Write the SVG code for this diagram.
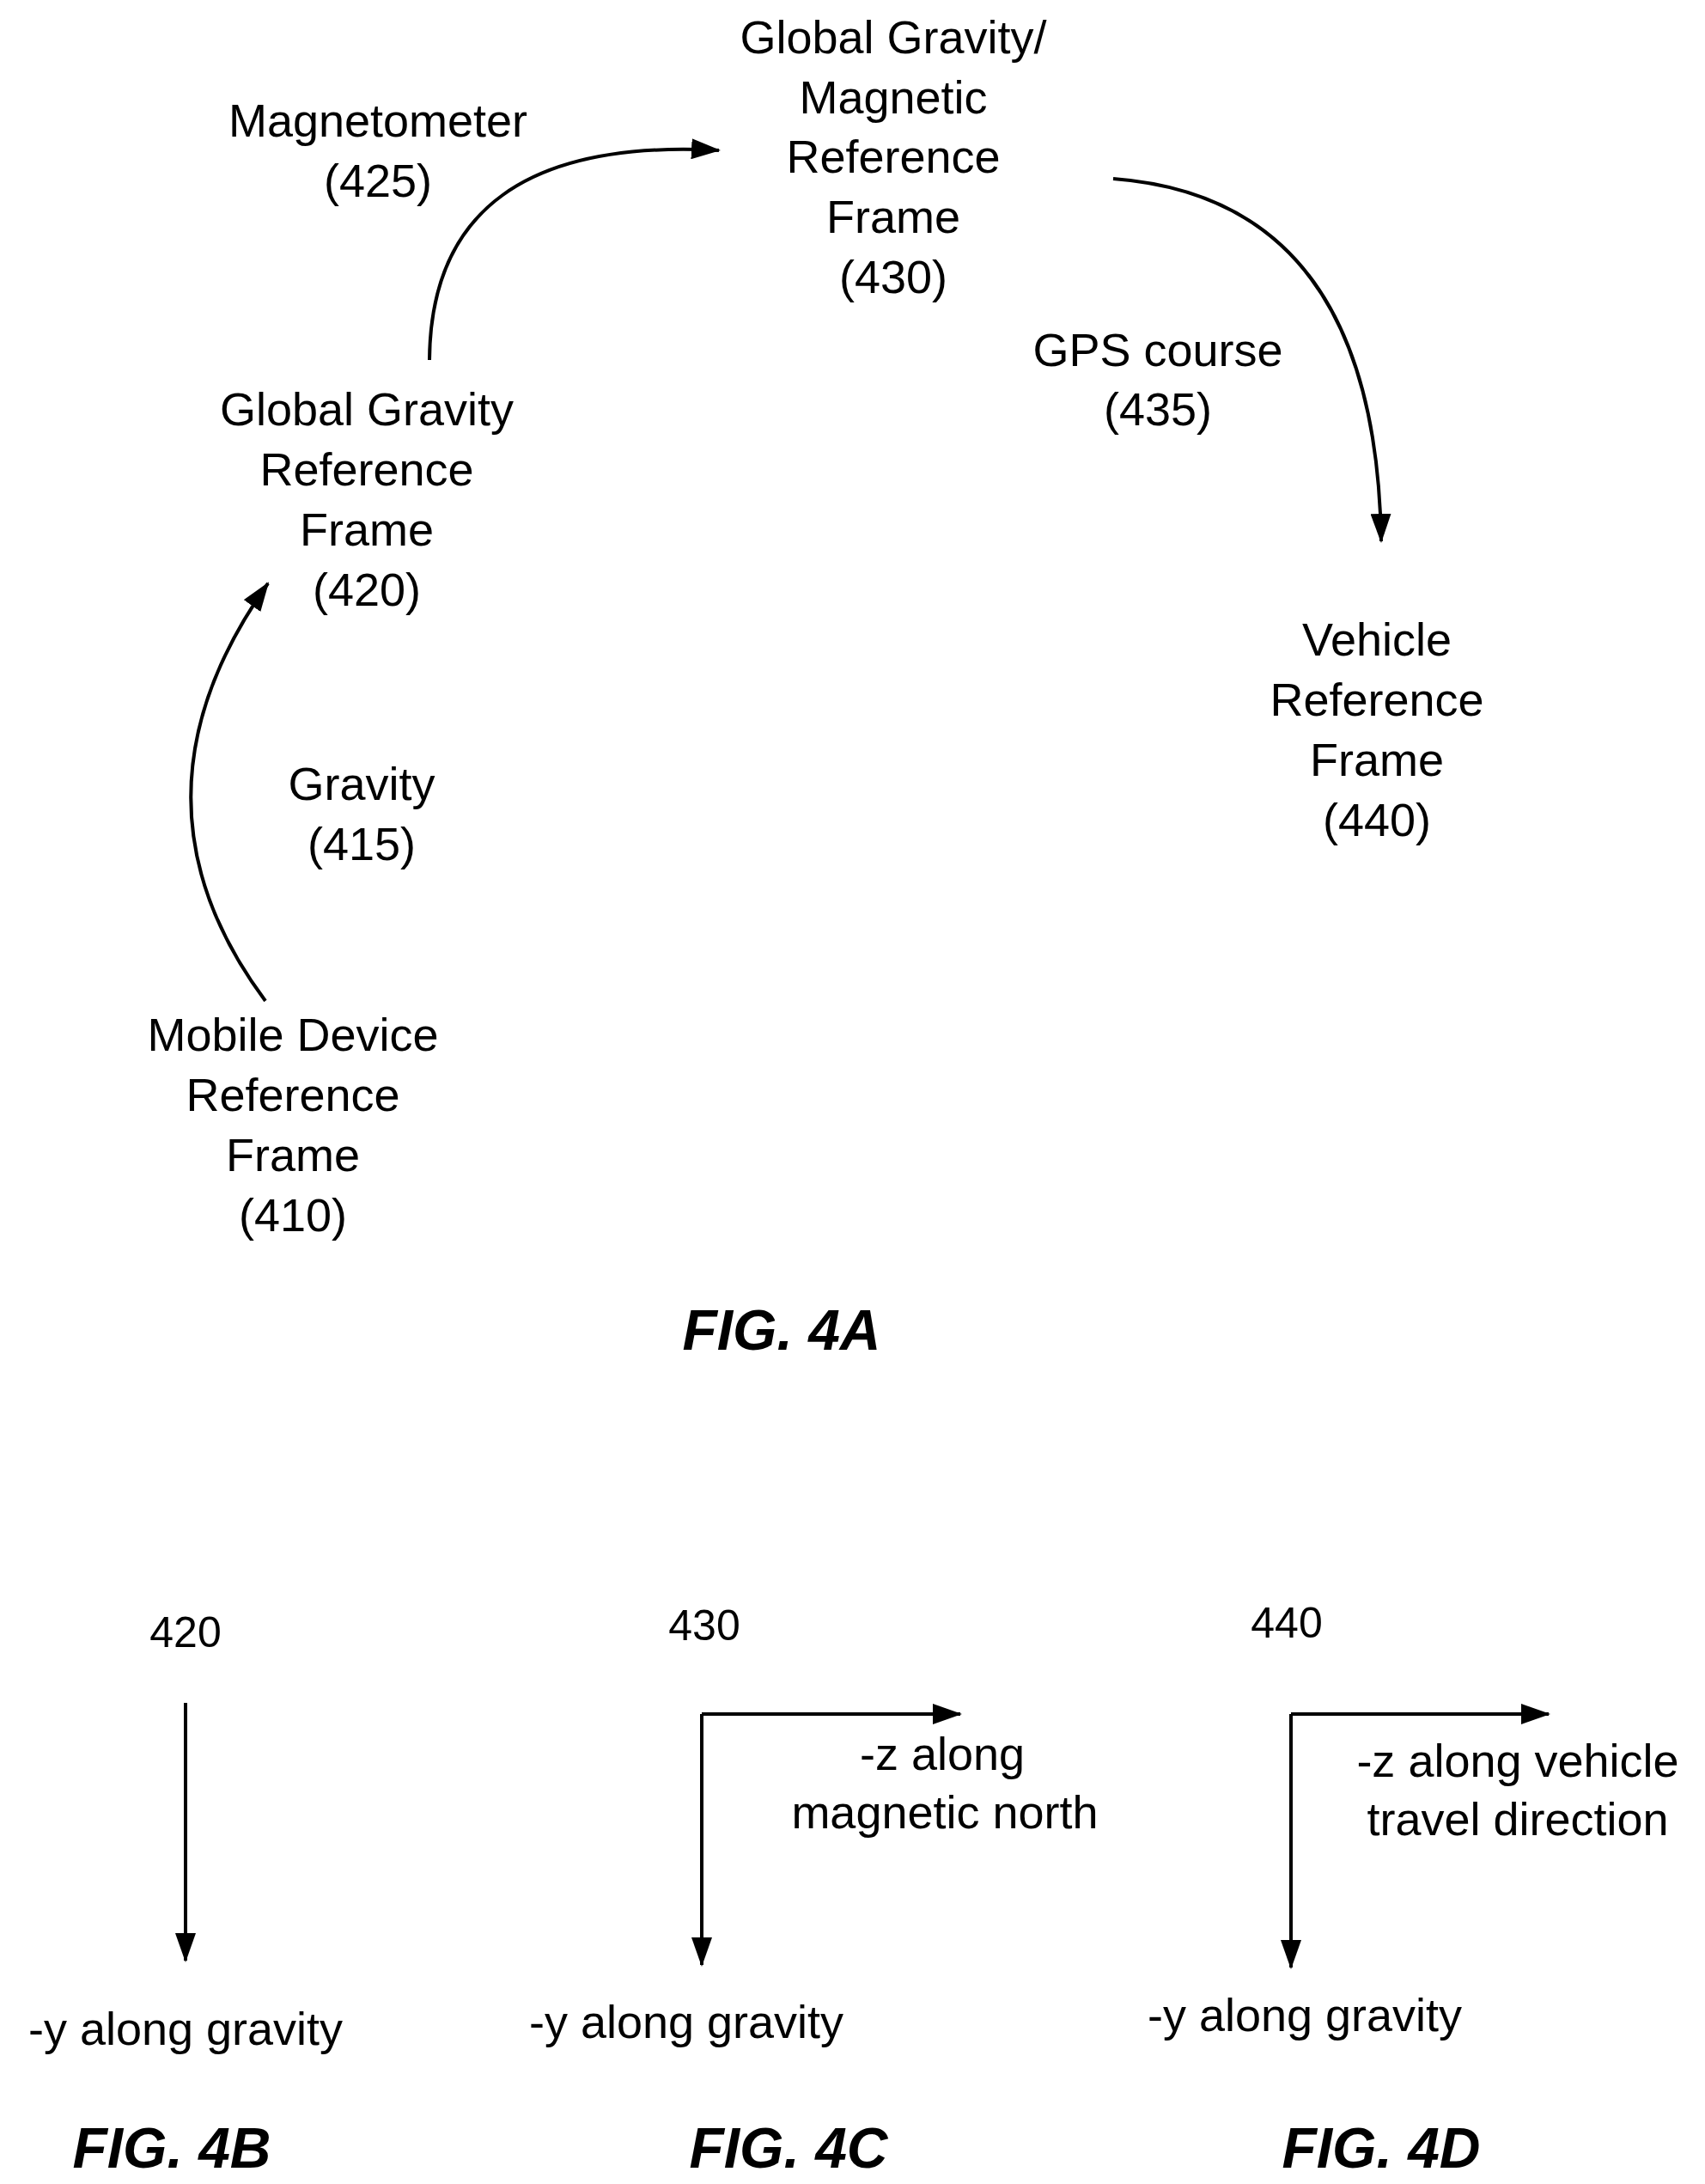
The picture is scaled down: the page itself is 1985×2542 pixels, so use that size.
<svg xmlns="http://www.w3.org/2000/svg" width="1985" height="2542" viewBox="0 0 1985 2542">
<style>
text{font-family:"Liberation Sans",Arial,sans-serif;fill:#000;text-anchor:middle}
.t{font-size:54px}
.n{font-size:50px}
.f{font-size:66px;font-weight:bold;font-style:italic}
.c{fill:none;stroke:#000;stroke-width:4}
</style>
<defs>
<marker id="ah" markerUnits="userSpaceOnUse" markerWidth="34" markerHeight="24" refX="32" refY="12" orient="auto">
<path d="M0,0 L34,12 L0,24 Z" fill="#000"/>
</marker>
</defs>
<rect width="1985" height="2542" fill="#fff"/>
<g id="n430"><text class="t" x="1040" y="62">Global Gravity/</text><text class="t" x="1040" y="132">Magnetic</text><text class="t" x="1040" y="201">Reference</text><text class="t" x="1040" y="271">Frame</text><text class="t" x="1040" y="341">(430)</text></g>
<g id="l425"><text class="t" x="440" y="159">Magnetometer</text><text class="t" x="440" y="229">(425)</text></g>
<g id="n420"><text class="t" x="427" y="495">Global Gravity</text><text class="t" x="427" y="565">Reference</text><text class="t" x="427" y="635">Frame</text><text class="t" x="427" y="705">(420)</text></g>
<g id="l415"><text class="t" x="421" y="931">Gravity</text><text class="t" x="421" y="1001">(415)</text></g>
<g id="n410"><text class="t" x="341" y="1223">Mobile Device</text><text class="t" x="341" y="1293">Reference</text><text class="t" x="341" y="1363">Frame</text><text class="t" x="341" y="1433">(410)</text></g>
<g id="l435"><text class="t" x="1348" y="426">GPS course</text><text class="t" x="1348" y="495">(435)</text></g>
<g id="n440"><text class="t" x="1603" y="763">Vehicle</text><text class="t" x="1603" y="833">Reference</text><text class="t" x="1603" y="903">Frame</text><text class="t" x="1603" y="973">(440)</text></g>
<text class="f" x="910" y="1571">FIG. 4A</text>
<g id="connectors">
<path class="c" d="M309,1165 Q134,930 312,679" marker-end="url(#ah)"/>
<path class="c" d="M500,419 Q502,157 837,175" marker-end="url(#ah)"/>
<path class="c" d="M1296,208 Q1602,231 1608,630" marker-end="url(#ah)"/>
<path class="c" d="M216,1982 L216,2282" marker-end="url(#ah)"/>
<path class="c" d="M817,1995 L1118,1995" marker-end="url(#ah)"/>
<path class="c" d="M817,1995 L817,2287" marker-end="url(#ah)"/>
<path class="c" d="M1503,1995 L1803,1995" marker-end="url(#ah)"/>
<path class="c" d="M1503,1995 L1503,2290" marker-end="url(#ah)"/>
</g>
<g id="fig4b"><text class="n" x="216" y="1917">420</text><text class="t" x="216" y="2380">-y along gravity</text><text class="f" x="200" y="2523">FIG. 4B</text></g>
<g id="fig4c"><text class="n" x="820" y="1909">430</text><text class="t" x="1097" y="2060">-z along</text><text class="t" x="1100" y="2128">magnetic north</text><text class="t" x="799" y="2372">-y along gravity</text><text class="f" x="918" y="2523">FIG. 4C</text></g>
<g id="fig4d"><text class="n" x="1498" y="1906">440</text><text class="t" x="1767" y="2068">-z along vehicle</text><text class="t" x="1767" y="2136">travel direction</text><text class="t" x="1519" y="2364">-y along gravity</text><text class="f" x="1608" y="2523">FIG. 4D</text></g>
</svg>
